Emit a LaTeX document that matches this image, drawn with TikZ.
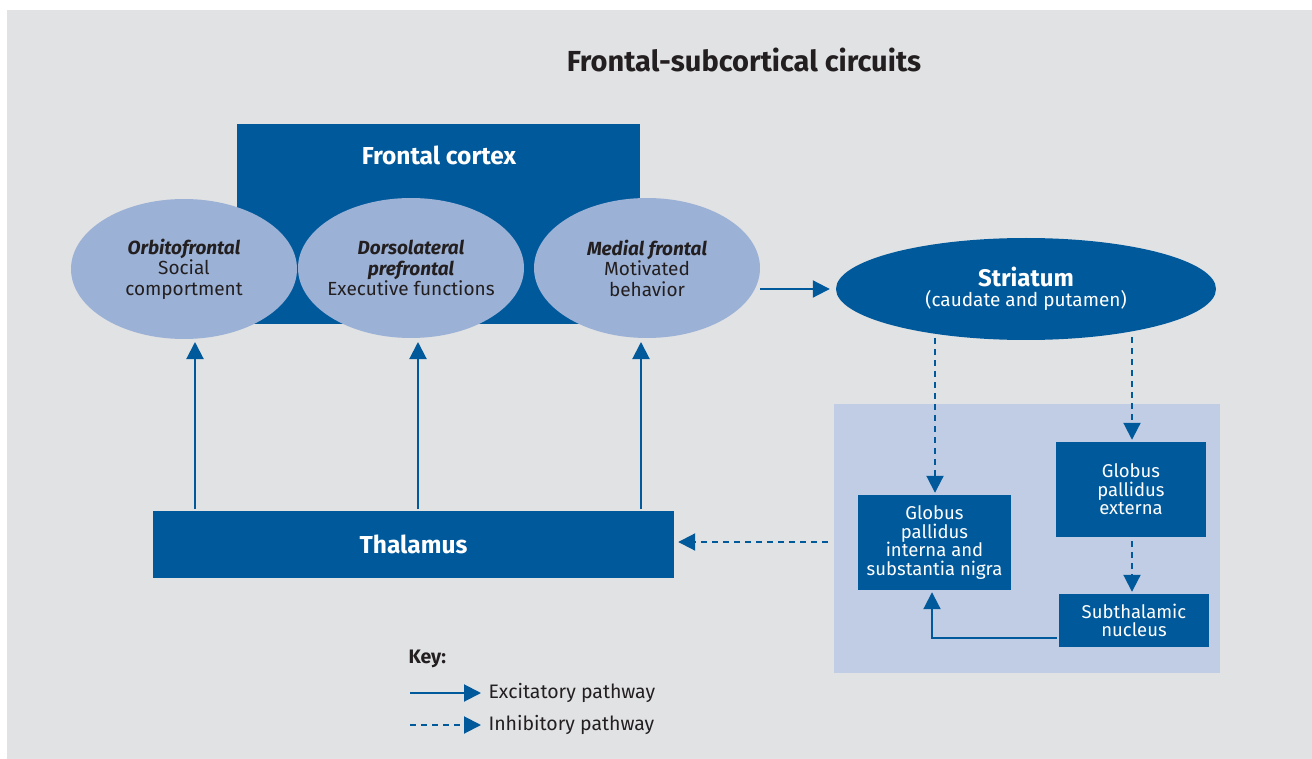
\documentclass[tikz,border=0pt]{standalone}
\usepackage{fontspec}
\setmainfont{Fira Sans}
\usetikzlibrary{shapes.geometric,arrows.meta}
\definecolor{bg}{RGB}{225,226,228}
\definecolor{dblue}{RGB}{0,89,155}
\definecolor{lblue}{RGB}{155,177,214}
\definecolor{panel}{RGB}{193,205,229}
\definecolor{txt}{RGB}{35,31,32}
\tikzset{
  box/.style={rectangle,fill=dblue,text=white,inner sep=0pt,align=center,font=\fontsize{18.5}{18.5}\selectfont},
  oval/.style={ellipse,fill=lblue,inner sep=0pt,minimum width=226pt,minimum height=140pt},
  ovaltext/.style={align=center,text=txt,font=\fontsize{19}{20.5}\selectfont},
  exc/.style={draw=dblue,line width=2pt,-{Triangle[length=17pt,width=17pt]}},
  inh/.style={draw=dblue,line width=2pt,dash pattern=on 6pt off 5pt,-{Triangle[length=17pt,width=17pt]}},
}
\begin{document}
\begin{tikzpicture}[x=1pt,y=-1pt]
\useasboundingbox (0,0) rectangle (1312,759);
\fill[white] (0,0) rectangle (1312,759);
\fill[bg] (7,10) rectangle (1312,759);
% title
\node[font=\bfseries\fontsize{29}{32}\selectfont,text=txt] (title) at (744,60) {Frontal-subcortical circuits};
% frontal cortex
\node[box,minimum width=403pt,minimum height=200pt] (fc) at (438.5,224) {};
\node[font=\bfseries\fontsize{24.5}{26}\selectfont,text=white] (fctext) at (439,155) {Frontal cortex};
% ellipses
\node[oval] (orb) at (184,269) {};
\node[ovaltext] (orbt) at (orb.center) {\textbf{\textit{Orbitofrontal}}\\Social\\comportment};
\node[oval] (dlp) at (411,268) {};
\node[ovaltext] (dlpt) at (dlp.center) {\textbf{\textit{Dorsolateral}}\\\textbf{\textit{prefrontal}}\\Executive functions};
\node[oval] (med) at (647,268) {};
\node[ovaltext] (medt) at (med.center) {\textbf{\textit{Medial frontal}}\\Motivated\\behavior};
% striatum
\node[ellipse,fill=dblue,text=white,inner sep=0pt,minimum width=380pt,minimum height=102pt,align=center] (str) at (1026,289)
  {{\bfseries\fontsize{24}{24}\selectfont Striatum}\\[2pt]{\fontsize{19}{19}\selectfont (caudate and putamen)}};
% thalamus
\node[box,minimum width=521pt,minimum height=67pt,font=\bfseries\fontsize{24.5}{26}\selectfont] (thal) at (413.5,544.5) {Thalamus};
% right panel
\fill[panel] (834,404) rectangle (1220,673);
\node[box,minimum width=153pt,minimum height=95pt] (gpi) at (934.5,542.5) {Globus\\pallidus\\interna and\\substantia nigra};
\node[box,minimum width=150pt,minimum height=95pt] (gpe) at (1131,489.5) {Globus\\pallidus\\externa};
\node[box,minimum width=150pt,minimum height=53pt] (stn) at (1134,620.5) {Subthalamic\\nucleus};
% coordinates
\coordinate (m1) at (760,289);
\coordinate (o1) at (195,509); \coordinate (o2) at (195,342);
\coordinate (d1) at (418,509); \coordinate (d2) at (418,342);
\coordinate (e1) at (641,509); \coordinate (e2) at (641,342);
\coordinate (s1) at (935,338);
\coordinate (s2) at (1132,337);
\coordinate (p1) at (828,542);
% connectors
\draw[exc] (m1) -- (str.west) [shorten >=6pt];
\draw[exc] (o1) -- (o2);
\draw[exc] (d1) -- (d2);
\draw[exc] (e1) -- (e2);
\draw[inh] (s1) -- ([yshift=2pt]gpi.north -| s1);
\draw[inh] (s2) -- ([yshift=2pt]gpe.north -| s2);
\draw[inh] ([yshift=-4pt]gpe.south -| s2) -- ([yshift=2pt]stn.north -| s2);
\draw[exc] ([xshift=-2pt,yshift=-17.5pt]stn.west) -| ([xshift=-2.5pt,yshift=-2pt]gpi.south);
\draw[inh] (p1) -- ([xshift=4pt]thal.east |- p1);
% key
\node[font=\bfseries\fontsize{19.5}{21}\selectfont,text=txt,anchor=west] (key) at (405,659) {Key:};
\coordinate (k1) at (410,693); \coordinate (k2) at (481,693);
\coordinate (k3) at (410,725); \coordinate (k4) at (481,725);
\draw[exc] (k1) -- (k2);
\draw[inh] (k3) -- (k4);
\node[font=\fontsize{19.5}{21}\selectfont,text=txt,anchor=west] (kexc) at (485,693) {Excitatory pathway};
\node[font=\fontsize{19.5}{21}\selectfont,text=txt,anchor=west] (kinh) at (485,725) {Inhibitory pathway};
\end{tikzpicture}
\end{document}
